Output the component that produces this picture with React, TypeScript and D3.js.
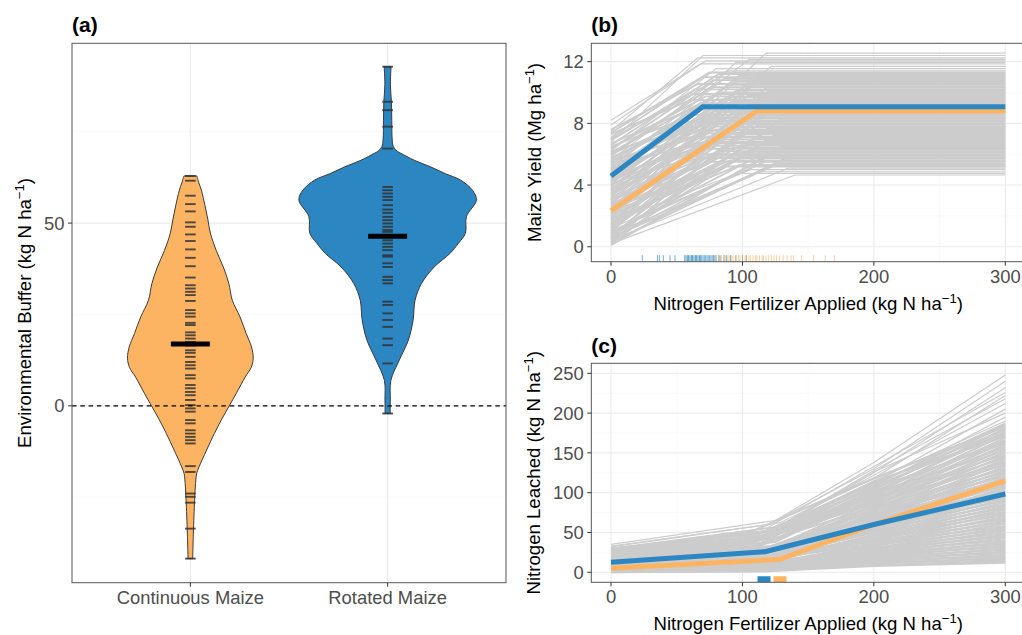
import React from "react";
import * as d3 from "d3";

// ---------------- DATA ----------------
const categories = ["Continuous Maize", "Rotated Maize"];

// violin outline profiles (value, relative density)
const contProfileValue = [62.9, 61, 59, 55, 51, 47.3, 42.5, 38, 33.5, 28.9, 24.4, 19.8, 16.1, 13, 10.5, 7.9, 3.4, 0, -3.9, -7.6, -12.1, -16.7, -18.5, -22.2, -25.8, -34.8, -41.8];
const contProfileDensity = [0.073, 0.096, 0.124, 0.163, 0.197, 0.225, 0.292, 0.371, 0.433, 0.472, 0.558, 0.629, 0.689, 0.708, 0.685, 0.618, 0.517, 0.438, 0.348, 0.27, 0.183, 0.098, 0.071, 0.056, 0.048, 0.034, 0.026];
const rotProfileValue = [92.8, 88, 83, 78, 73, 70.9, 69.6, 69.1, 67.2, 65.4, 63.5, 61.8, 59.0, 56.3, 51.8, 47.2, 44.5, 41.7, 38, 33.5, 28.9, 23.5, 18, 12.5, 7, 1.6, -2.1];
const rotProfileDensity = [0.039, 0.031, 0.043, 0.047, 0.051, 0.065, 0.112, 0.149, 0.3, 0.483, 0.652, 0.82, 0.955, 1, 0.888, 0.876, 0.798, 0.702, 0.525, 0.382, 0.309, 0.287, 0.234, 0.131, 0.037, 0.03, 0.029];

// individual site-year buffers
const contBuffer = [62.9, 61.6, 57.5, 55.2, 53.2, 50.2, 49.0, 46.9, 45.1, 42.8, 40.5, 38.2, 35.1, 33.0, 32.1, 31.2, 30.3, 28.7, 26.2, 25.3, 24.4, 22.7, 22.1, 20.1, 19.3, 18.4, 17.5, 16.5, 15.2, 14.5, 13.4, 12.0, 11.1, 10.2, 8.4, 7.5, 5.7, 4.8, 3.8, 2.9, 1.6, 0.2, -0.7, -1.6, -3.9, -4.8, -6.7, -7.6, -8.5, -9.4, -10.3, -16.5, -18.1, -24.0, -24.9, -26.5, -33.6, -41.8];
const rotBuffer = [92.8, 83.2, 80.9, 76.4, 70.4, 59.9, 59.0, 58.1, 57.2, 56.3, 54.9, 53.7, 52.8, 51.7, 50.8, 49.9, 49.0, 48.1, 47.6, 45.3, 44.4, 43.5, 42.6, 41.2, 40.8, 39.0, 38.0, 35.3, 34.4, 33.5, 28.5, 27.6, 25.3, 23.5, 21.6, 18.4, 16.6, 11.6, -2.1];
const meanBuffer = [16.9, 46.4];

// panel (b): yield response curves (yield at 0 N, N at plateau, plateau yield)
const yieldAt0 = [
  3.2, 6.8, 7.5, 5.1, 8.2, 4.0, 7.9, 2.5, 6.2, 5.6,
  7.4, 1.8, 6.6, 4.4, 3.0, 7.1, 5.9, 0.9, 6.3, 4.8,
  2.2, 7.6, 5.3, 3.7, 6.0, 1.2, 6.9, 4.1, 0.5, 5.5,
  3.4, 7.0, 2.8, 6.4, 4.6, 1.5, 5.0, 7.3, 3.9, 0.3,
  6.1, 2.0, 4.3, 5.7, 1.0, 6.7, 3.1, 4.9, 0.7, 5.2,
  3.6, 6.5, 1.4, 4.5, 2.6, 5.8, 0.2, 3.3, 6.0, 2.1,
  4.7, 1.1, 5.4, 2.9, 0.6, 4.2, 6.2, 1.7, 3.5, 5.0,
  2.4, 0.4, 4.0, 5.6, 1.9, 3.0, 0.8, 4.4, 2.7, 5.1,
  1.3, 3.8, 0.1, 2.3, 4.6, 1.6, 3.2, 0.5, 2.0, 4.1,
  0.9, 2.8, 1.5, 3.6, 0.3, 2.2, 1.0, 3.0, 0.6, 1.8,
  2.5, 0.4, 1.2, 0.8, 1.6, 0.2];
const yieldKnotN = [
  118, 70, 66, 105, 72, 95, 68, 122, 80, 88,
  75, 115, 82, 98, 110, 70, 86, 112, 78, 92,
  108, 66, 90, 102, 76, 118, 64, 96, 120, 84,
  100, 62, 104, 72, 88, 112, 80, 60, 94, 125,
  68, 106, 90, 74, 114, 62, 96, 78, 120, 82,
  92, 64, 110, 80, 100, 68, 128, 86, 58, 98,
  76, 112, 66, 94, 122, 80, 56, 104, 84, 70,
  90, 124, 74, 60, 108, 86, 118, 70, 96, 62,
  104, 72, 130, 92, 64, 110, 82, 126, 96, 70,
  114, 84, 100, 66, 132, 90, 118, 76, 128, 98,
  88, 135, 106, 112, 96, 140];
const yieldPlateau = [
  12.55, 12.4, 12.25, 12.15, 12.05, 11.95, 11.85, 11.7, 11.55, 11.4,
  11.3, 11.25, 11.2, 11.1, 11.05, 11.0, 10.9, 10.85, 10.8, 10.7,
  10.6, 10.55, 10.5, 10.4, 10.35, 10.3, 10.2, 10.15, 10.1, 10.0,
  9.95, 9.9, 9.8, 9.75, 9.7, 9.6, 9.55, 9.5, 9.4, 9.35,
  9.3, 9.2, 9.15, 9.1, 9.0, 8.95, 8.9, 8.8, 8.75, 8.7,
  8.6, 8.55, 8.5, 8.4, 8.35, 8.3, 8.2, 8.15, 8.1, 8.0,
  7.95, 7.9, 7.8, 7.75, 7.7, 7.6, 7.55, 7.5, 7.4, 7.35,
  7.3, 7.2, 7.15, 7.1, 7.0, 6.95, 6.9, 6.8, 6.75, 6.7,
  6.6, 6.55, 6.5, 6.4, 6.35, 6.3, 6.2, 6.15, 6.1, 6.0,
  5.95, 5.9, 5.8, 5.75, 5.7, 5.6, 5.55, 5.5, 5.4, 5.3,
  5.2, 5.1, 5.0, 4.85, 4.75, 4.65];

// mean curves
const rotYieldN = [0, 69.8, 300];
const rotYield = [4.58, 9.08, 9.08];
const contYieldN = [0, 110.9, 300];
const contYield = [2.33, 8.8, 8.8];

// optimal N rates (rug)
const rotOptN = [23.8, 35.3, 36.8, 39.8, 44.9, 48.7, 56, 57, 58, 58.5, 59, 60, 61, 61.5, 62, 63, 64, 64.5, 65, 66, 67, 67.5, 68, 69, 70, 71, 72, 73, 74, 75, 76, 77, 78, 79, 80, 82, 83, 86, 88, 91, 95, 100, 103];
const contOptN = [80, 82, 84, 86, 87, 89, 90, 92, 93, 95, 97, 98, 100, 102, 103, 105, 106, 108, 110, 111, 113, 115, 116, 118, 120, 122, 124, 126, 128, 131, 134, 137, 139, 145, 154, 163, 170];

// panel (c): leaching curves
const leachKnotN = [
  125, 120, 130, 118, 128, 122, 126, 115, 124, 119, 127,
  112, 120, 108, 125, 115, 110, 122, 105, 118, 113,
  128, 107, 116, 121, 109, 124, 111, 119, 106,
  123, 114, 117, 104, 126, 110, 120, 108,
  115, 122, 103, 118, 112, 127, 106, 116,
  121, 109, 124, 113, 105, 119, 111, 125,
  107, 117, 122, 104, 114, 120, 110, 126,
  108, 116, 121, 103, 118, 112, 124, 106,
  115, 119, 109, 123, 105, 117, 111, 120,
  113, 107, 122, 104, 118, 110, 125, 108, 116,
  114, 121, 106, 119, 112];
const leachAt0 = [
  35, 33, 30, 28, 32, 26, 29, 24, 27, 22, 25,
  30, 22, 28, 18, 26, 20, 27, 16, 29, 15,
  24, 14, 25, 13, 21, 12, 23, 12, 19,
  11, 22, 11, 18, 10, 20, 9, 17,
  10, 16, 9, 14, 8, 15, 7, 13,
  8, 12, 7, 11, 6, 12, 6, 10,
  6, 9, 5, 9, 5, 8, 4, 7,
  5, 7, 4, 6, 3, 6, 3, 5,
  3, 5, 2, 4, 2, 4, 2, 3,
  1, 3, 1, 2, 1, 2, 1, 1, 0.5,
  1, 0.5, 0.5, 0.3, 0.2];
const leachAtKnot = [
  65, 60, 58, 55, 62, 52, 57, 50, 54, 48, 53,
  48, 42, 52, 38, 45, 40, 47, 35, 50, 33,
  44, 31, 46, 30, 40, 28, 43, 27, 38,
  26, 41, 25, 36, 24, 39, 22, 34,
  23, 33, 21, 30, 20, 32, 18, 28,
  19, 27, 17, 25, 16, 24, 15, 22,
  14, 21, 13, 20, 12, 19, 11, 17,
  12, 16, 10, 15, 9, 14, 9, 13,
  8, 12, 7, 11, 7, 10, 6, 9,
  5, 8, 5, 7, 4, 6, 4, 5, 3,
  4, 3, 3, 2, 1];
const leachAt200 = [
  138, 130, 125, 133, 118, 128, 122, 112, 126, 108, 115,
  110, 104, 118, 98, 112, 100, 108, 95, 114, 92,
  102, 90, 106, 88, 97, 85, 100, 83, 94,
  80, 91, 78, 86, 75, 88, 72, 82,
  70, 79, 68, 76, 65, 73, 62, 70,
  60, 67, 57, 64, 55, 61, 52, 58,
  50, 56, 47, 53, 45, 50, 42, 47,
  40, 45, 37, 42, 35, 39, 33, 36,
  30, 34, 28, 31, 26, 29, 24, 26,
  21, 24, 19, 22, 17, 19, 15, 17, 13,
  14, 11, 12, 9, 8];
const leachAt300 = [
  248, 240, 232, 226, 222, 218, 212, 205, 200, 195, 190,
  187, 185, 183, 181, 179, 177, 175, 173, 171, 169,
  166, 164, 162, 160, 157, 155, 153, 151, 148,
  146, 144, 142, 139, 137, 135, 133, 130,
  128, 126, 124, 121, 119, 117, 115, 112,
  110, 108, 106, 103, 101, 99, 97, 94,
  92, 90, 88, 85, 83, 81, 79, 76,
  74, 72, 70, 67, 65, 63, 61, 58,
  56, 54, 52, 49, 47, 45, 43, 40,
  38, 36, 34, 32, 30, 28, 26, 24, 22,
  20, 18, 16, 14, 12];

const rotLeachN = [0, 117.2, 200, 300];
const rotLeach = [12.6, 25.9, 60, 98.4];
const contLeachN = [0, 128.6, 200, 300];
const contLeach = [5, 16.3, 60, 115];
const meanOptN = [116.4, 128.6];

const yTicksA = [0, 50];
const yMinorA = [-25, 25, 75];
const xTicksN = [0, 100, 200, 300];
const xMinorN = [50, 150, 250];
const yTicksB = [0, 4, 8, 12];
const yMinorB = [2, 6, 10];
const yTicksC = [0, 50, 100, 150, 200, 250];
const yMinorC = [25, 75, 125, 175, 225];

// ---------------- STYLE ----------------
const FONT = "'Liberation Sans', Arial, Helvetica, sans-serif";
const BLUE = "#2b86c2";
const ORANGE = "#fdb462";
const GRAY_LINE = "#cccccc";
const GRID = "#ebebeb";
const GRID_MINOR = "#f5f5f5";
const BORDER = "#555555";
const TICK_TXT = "#4d4d4d";
const TICK_FS = 18.4;
const TITLE_FS = 18.6;

const W = 1022, H = 635;

const Sup = ({ pre }: { pre: string }) => (
  <>
    {pre}
    <tspan fontSize={TITLE_FS * 0.7} dy={-7}>−1</tspan>
    <tspan dy={7}>)</tspan>
  </>
);

export default function App() {
  // panel geometry
  const A = { l: 72, r: 506, t: 43.3, b: 582.7 };
  const B = { l: 591.3, r: 1025, t: 43.3, b: 261.7 };
  const C = { l: 591.3, r: 1025, t: 363.3, b: 582.3 };

  const xA = d3.scalePoint<string>().domain(categories).range([A.l, A.r]).padding(0.6);
  const stepA = xA.step();
  const hwMax = stepA * 0.45;
  const yA = d3.scaleLinear().domain([-48.4, 99.2]).range([A.b, A.t]);

  const xN_B = d3.scaleLinear().domain([-15, 315]).range([B.l, B.r]);
  const yB = d3.scaleLinear().domain([-0.97, 13.19]).range([B.b, B.t]);
  const xN_C = d3.scaleLinear().domain([-15, 315]).range([C.l, C.r]);
  const yC = d3.scaleLinear().domain([-12.6, 262.6]).range([C.b, C.t]);

  const violin = (cx: number, vals: number[], dens: number[]) => {
    const pts = vals.map((v, i) => ({ v, d: dens[i] }));
    return d3
      .area<{ v: number; d: number }>()
      .curve(d3.curveCatmullRom.alpha(0.5))
      .y((p) => yA(p.v))
      .x0((p) => cx - p.d * hwMax)
      .x1((p) => cx + p.d * hwMax)(pts) as string;
  };

  const lineB = d3.line<[number, number]>().x((p) => xN_B(p[0])).y((p) => yB(p[1]));
  const lineC = d3.line<[number, number]>().x((p) => xN_C(p[0])).y((p) => yC(p[1]));

  const cxCont = xA(categories[0])!;
  const cxRot = xA(categories[1])!;

  const gridH = (P: any, scale: any, major: number[], minor: number[]) => (
    <g>
      {minor.map((v) => (
        <line key={"m" + v} x1={P.l} x2={P.r} y1={scale(v)} y2={scale(v)} stroke={GRID_MINOR} strokeWidth={0.6} />
      ))}
      {major.map((v) => (
        <line key={"M" + v} x1={P.l} x2={P.r} y1={scale(v)} y2={scale(v)} stroke={GRID} strokeWidth={1.1} />
      ))}
    </g>
  );
  const gridV = (P: any, scale: any, major: number[], minor: number[]) => (
    <g>
      {minor.map((v) => (
        <line key={"m" + v} y1={P.t} y2={P.b} x1={scale(v)} x2={scale(v)} stroke={GRID_MINOR} strokeWidth={0.6} />
      ))}
      {major.map((v) => (
        <line key={"M" + v} y1={P.t} y2={P.b} x1={scale(v)} x2={scale(v)} stroke={GRID} strokeWidth={1.1} />
      ))}
    </g>
  );
  const yAxis = (P: any, scale: any, ticks: number[]) => (
    <g>
      {ticks.map((v) => (
        <g key={v}>
          <line x1={P.l - 4} x2={P.l} y1={scale(v)} y2={scale(v)} stroke="#333" strokeWidth={1} />
          <text x={P.l - 7.5} y={scale(v)} dy="0.36em" textAnchor="end" fontSize={TICK_FS} fill={TICK_TXT} fontFamily={FONT}>
            {v}
          </text>
        </g>
      ))}
    </g>
  );
  const xAxisN = (P: any, scale: any, dyLab: number) => (
    <g>
      {xTicksN.map((v) => (
        <g key={v}>
          <line y1={P.b} y2={P.b + 4} x1={scale(v)} x2={scale(v)} stroke="#333" strokeWidth={1} />
          <text x={scale(v)} y={P.b + dyLab} textAnchor="middle" fontSize={TICK_FS} fill={TICK_TXT} fontFamily={FONT}>
            {v}
          </text>
        </g>
      ))}
    </g>
  );

  return (
    <svg width={W} height={H} style={{ position: "absolute", left: 0, top: 0, background: "#fff" }} fontFamily={FONT}>
      <defs>
        <clipPath id="clipB"><rect x={B.l} y={B.t} width={B.r - B.l} height={B.b - B.t} /></clipPath>
        <clipPath id="clipC"><rect x={C.l} y={C.t} width={C.r - C.l} height={C.b - C.t} /></clipPath>
      </defs>
      <rect width={W} height={H} fill="#fff" />

      {/* ---------- Panel (a) ---------- */}
      {gridH(A, yA, yTicksA, yMinorA)}
      {categories.map((c) => (
        <line key={c} x1={xA(c)} x2={xA(c)} y1={A.t} y2={A.b} stroke={GRID} strokeWidth={1.1} />
      ))}
      <path d={violin(cxCont, contProfileValue, contProfileDensity)} fill={ORANGE} stroke="#3a3a3a" strokeWidth={1} />
      <path d={violin(cxRot, rotProfileValue, rotProfileDensity)} fill={BLUE} stroke="#3a3a3a" strokeWidth={1} />
      {contBuffer.map((v, i) => (
        <line key={"c" + i} x1={cxCont - 5.3} x2={cxCont + 5.3} y1={yA(v)} y2={yA(v)} stroke="#333" strokeOpacity={0.85} strokeWidth={1.9} />
      ))}
      {rotBuffer.map((v, i) => (
        <line key={"r" + i} x1={cxRot - 5.3} x2={cxRot + 5.3} y1={yA(v)} y2={yA(v)} stroke="#333" strokeOpacity={0.85} strokeWidth={1.9} />
      ))}
      {[cxCont, cxRot].map((cx, i) => (
        <line key={"mean" + i} x1={cx - 19.5} x2={cx + 19.5} y1={yA(meanBuffer[i])} y2={yA(meanBuffer[i])} stroke="#000" strokeWidth={5} />
      ))}
      <line x1={A.l} x2={A.r} y1={yA(0)} y2={yA(0)} stroke="#000" strokeWidth={1.2} strokeDasharray="4.5,3.8" />
      <rect x={A.l} y={A.t} width={A.r - A.l} height={A.b - A.t} fill="none" stroke={BORDER} strokeWidth={1} />
      {yAxis(A, yA, yTicksA)}
      {categories.map((c) => (
        <g key={"xl" + c}>
          <line x1={xA(c)} x2={xA(c)} y1={A.b} y2={A.b + 4} stroke="#333" />
          <text x={xA(c)} y={A.b + 21.5} textAnchor="middle" fontSize={TICK_FS} fill={TICK_TXT}>{c}</text>
        </g>
      ))}
      <text transform={`translate(30.5,${(A.t + A.b) / 2}) rotate(-90)`} textAnchor="middle" fontSize={TITLE_FS} fill="#000">
        <Sup pre="Environmental Buffer (kg N ha" />
      </text>
      <text x={A.l} y={31.5} fontSize={21} fontWeight="bold" fill="#000">(a)</text>

      {/* ---------- Panel (b) ---------- */}
      {gridH(B, yB, yTicksB, yMinorB)}
      {gridV(B, xN_B, xTicksN, xMinorN)}
      <g clipPath="url(#clipB)">
        {yieldAt0.map((y0, i) => (
          <path key={"g" + i} d={lineB([[0, y0], [yieldKnotN[i], yieldPlateau[i]], [300, yieldPlateau[i]]])!} fill="none" stroke={GRAY_LINE} strokeWidth={i < 10 || i > 100 ? 1.2 : 1.9} />
        ))}
        <path d={lineB(contYieldN.map((n, i) => [n, contYield[i]]))!} fill="none" stroke={ORANGE} strokeWidth={5} />
        <path d={lineB(rotYieldN.map((n, i) => [n, rotYield[i]]))!} fill="none" stroke={BLUE} strokeWidth={5} />
        {rotOptN.map((n, i) => (
          <line key={"rb" + i} x1={xN_B(n)} x2={xN_B(n)} y1={B.b} y2={B.b - 6.5} stroke={BLUE} strokeOpacity={0.65} strokeWidth={1} />
        ))}
        {contOptN.map((n, i) => (
          <line key={"ob" + i} x1={xN_B(n)} x2={xN_B(n)} y1={B.b} y2={B.b - 6.5} stroke={ORANGE} strokeOpacity={0.6} strokeWidth={1} />
        ))}
      </g>
      <rect x={B.l} y={B.t} width={B.r - B.l} height={B.b - B.t} fill="none" stroke={BORDER} strokeWidth={1} />
      {yAxis(B, yB, yTicksB)}
      {xAxisN(B, xN_B, 21.5)}
      <text x={(B.l + B.r) / 2} y={B.b + 48.5} textAnchor="middle" fontSize={TITLE_FS} fill="#000">
        <Sup pre="Nitrogen Fertilizer Applied (kg N ha" />
      </text>
      <text transform={`translate(541,${(B.t + B.b) / 2}) rotate(-90)`} textAnchor="middle" fontSize={TITLE_FS} fill="#000">
        <Sup pre="Maize Yield (Mg ha" />
      </text>
      <text x={B.l} y={31.5} fontSize={21} fontWeight="bold" fill="#000">(b)</text>

      {/* ---------- Panel (c) ---------- */}
      {gridH(C, yC, yTicksC, yMinorC)}
      {gridV(C, xN_C, xTicksN, xMinorN)}
      <g clipPath="url(#clipC)">
        {leachAt0.map((l0, i) => (
          <path key={"gc" + i} d={lineC([[0, l0], [leachKnotN[i], leachAtKnot[i]], [200, leachAt200[i]], [300, leachAt300[i]]])!} fill="none" stroke={GRAY_LINE} strokeWidth={i < 11 ? 1.2 : 2.2} />
        ))}
        <path d={lineC(contLeachN.map((n, i) => [n, contLeach[i]]))!} fill="none" stroke={ORANGE} strokeWidth={5} />
        <path d={lineC(rotLeachN.map((n, i) => [n, rotLeach[i]]))!} fill="none" stroke={BLUE} strokeWidth={5} />
        {meanOptN.map((n, i) => (
          <line key={"mo" + i} x1={xN_C(n)} x2={xN_C(n)} y1={C.b} y2={C.b - 6} stroke={i === 0 ? BLUE : ORANGE} strokeWidth={13} />
        ))}
      </g>
      <rect x={C.l} y={C.t} width={C.r - C.l} height={C.b - C.t} fill="none" stroke={BORDER} strokeWidth={1} />
      {yAxis(C, yC, yTicksC)}
      {xAxisN(C, xN_C, 21)}
      <text x={(C.l + C.r) / 2} y={C.b + 48} textAnchor="middle" fontSize={TITLE_FS} fill="#000">
        <Sup pre="Nitrogen Fertilizer Applied (kg N ha" />
      </text>
      <text transform={`translate(540,${(C.t + C.b) / 2}) rotate(-90)`} textAnchor="middle" fontSize={TITLE_FS} fill="#000">
        <Sup pre="Nitrogen Leached (kg N ha" />
      </text>
      <text x={C.l} y={353} fontSize={21} fontWeight="bold" fill="#000">(c)</text>
    </svg>
  );
}
